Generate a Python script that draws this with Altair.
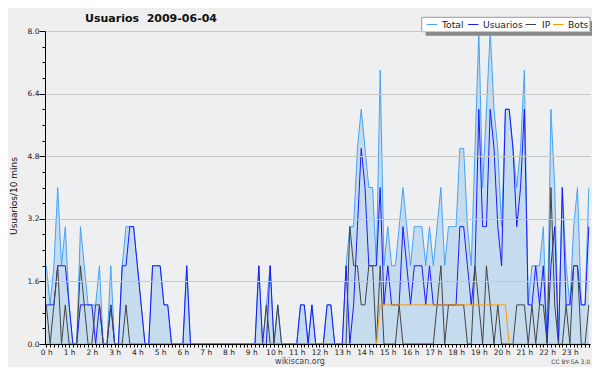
import altair as alt
import pandas as pd

# 10-minute slots of 2009-06-04 (144 slots)
slot = list(range(144))

usuarios = [
    1, 1, 1, 2, 2, 2,  1, 0, 0, 1, 1, 1,  1, 0, 1, 0, 0, 1,  0, 0, 2, 2, 3, 3,
    2, 1, 0, 0, 2, 2,  2, 1, 1, 0, 0, 0,  0, 2, 0, 0, 0, 0,  0, 0, 0, 0, 0, 0,
    0, 0, 0, 0, 0, 0,  0, 0, 2, 0, 0, 2,  0, 0, 0, 0, 0, 0,  0, 1, 1, 0, 1, 0,
    0, 0, 1, 1, 0, 0,  0, 2, 0, 1, 3, 5,  4, 2, 2, 2, 4, 1,  2, 1, 1, 1, 3, 2,
    1, 2, 2, 2, 1, 2,  1, 1, 1, 1, 1, 1,  1, 3, 3, 2, 1, 2,  6, 3, 3, 6, 5, 3,
    2, 6, 6, 5, 3, 4,  6, 1, 1, 2, 1, 2,  0, 2, 3, 0, 4, 1,  1, 2, 2, 1, 1, 3,
]

ip = [
    1, 0, 1, 2, 0, 1,  0, 0, 0, 2, 1, 0,  0, 1, 1, 0, 0, 1,  0, 0, 0, 1, 0, 0,
    0, 0, 0, 0, 0, 0,  0, 0, 0, 0, 0, 0,  0, 0, 0, 0, 0, 0,  0, 0, 0, 0, 0, 0,
    0, 0, 0, 0, 0, 0,  0, 0, 0, 0, 1, 0,  0, 1, 0, 0, 0, 0,  0, 0, 0, 0, 0, 0,
    0, 0, 0, 0, 0, 0,  0, 0, 3, 2, 2, 1,  1, 2, 2, 0, 2, 0,  0, 0, 0, 1, 0, 0,
    0, 0, 0, 0, 0, 0,  0, 1, 2, 0, 1, 1,  1, 1, 1, 0, 0, 2,  1, 0, 2, 1, 0, 1,
    0, 0, 0, 0, 1, 1,  1, 0, 1, 0, 1, 1,  0, 4, 1, 0, 0, 1,  0, 2, 2, 0, 0, 1,
]

bots = [0] * 88 + [1] * 34 + [0] * 22

total = [
    2, 1, 2, 4, 2, 3,  1, 0, 0, 3, 2, 1,  1, 1, 2, 0, 0, 2,  0, 0, 2, 3, 3, 3,
    2, 1, 0, 0, 2, 2,  2, 1, 1, 0, 0, 0,  0, 2, 0, 0, 0, 0,  0, 0, 0, 0, 0, 0,
    0, 0, 0, 0, 0, 0,  0, 0, 2, 0, 1, 2,  0, 1, 0, 0, 0, 0,  0, 1, 1, 0, 1, 0,
    0, 0, 1, 1, 0, 0,  0, 2, 3, 3, 5, 6,  5, 4, 4, 2, 7, 2,  3, 2, 2, 3, 4, 3,
    2, 3, 3, 3, 2, 3,  2, 3, 4, 2, 3, 3,  3, 5, 5, 3, 2, 5,  8, 4, 6, 8, 6, 5,
    3, 6, 6, 5, 4, 5,  7, 1, 2, 2, 2, 3,  0, 6, 4, 0, 4, 2,  1, 3, 4, 1, 1, 4,
]

y_ticks = [round(0.4 * k, 1) for k in range(21)]
series_names = ["Total", "Usuarios", "IP", "Bots"]
series_colors = ["#45a3f7", "#1a1aff", "#444444", "#ff9a00"]

df = pd.DataFrame({"slot": slot, "Total": total, "Usuarios": usuarios,
                   "IP": ip, "Bots": bots})

FONT = "DejaVu Sans"
W, H = 545, 313

x_scale = alt.Scale(domain=[-0.35, 143.3], nice=False, zero=False)
y_scale = alt.Scale(domain=[0, 8], nice=False)
major = "abs(datum.value / 1.6 - round(datum.value / 1.6)) < 0.001"

x_axis = alt.Axis(
    title="", values=slot,
    labelExpr="datum.value % 6 == 0 ? (datum.value / 6) + ' h' : ''",
    tickSize=3, tickColor="#000000", domainColor="#000000",
    labelFont=FONT, labelFontSize=7.5, labelColor="#222222",
    labelPadding=1, labelOverlap=False, labelFlush=False, labelBound=False,
    grid=False, zindex=1,
)
y_axis = alt.Axis(
    title="", values=y_ticks,
    labelExpr=f"{major} ? format(datum.value, '.1f') : ''",
    tickSize={"condition": {"test": major, "value": 6}, "value": 3},
    tickColor="#000000", domainColor="#000000",
    labelFont=FONT, labelFontSize=7.5, labelColor="#222222",
    labelPadding=0, labelOverlap=False, labelFlush=False, labelBound=False,
    grid=True, gridColor="#c8c8c8",
    gridOpacity={"condition": {"test": major, "value": 1}, "value": 0},
    zindex=1,
)


def X():
    return alt.X("slot:Q", scale=x_scale, axis=x_axis)


def Y(field):
    return alt.Y(f"{field}:Q", scale=y_scale, axis=y_axis)


base = alt.Chart(df)
area = base.mark_area(color="#c5dcef", opacity=1).encode(x=X(), y=Y("Total"))
lines = [
    base.mark_line(color=c, strokeWidth=1, interpolate="linear").encode(x=X(), y=Y(n))
    for n, c in zip(series_names, series_colors)
]

one = pd.DataFrame({"k": [0]})
deco = alt.Chart(one)

title = deco.mark_text(text="Usuarios\u00a0\u00a02009-06-04", font=FONT, fontSize=11,
                       fontWeight="bold", color="#111111", align="center",
                       baseline="alphabetic").encode(x=alt.value(106), y=alt.value(-9.5))
ytitle = deco.mark_text(text="Usuarios/10 mins", font=FONT, fontSize=9,
                        color="#111111", angle=270, align="center",
                        baseline="middle").encode(x=alt.value(-31.5), y=alt.value(165))
footer = deco.mark_text(text="wikiscan.org", font=FONT, fontSize=8,
                        color="#444444", align="center",
                        baseline="alphabetic").encode(x=alt.value(255), y=alt.value(333))
cc = deco.mark_text(text="CC BY-SA 3.0", font=FONT, fontSize=6,
                    color="#444444", align="right",
                    baseline="alphabetic").encode(x=alt.value(545), y=alt.value(333))

shadow = deco.mark_rect(fill="#888888").encode(
    x=alt.value(380.7), x2=alt.value(549), y=alt.value(-9.7), y2=alt.value(4.7))
box = deco.mark_rect(fill="#ffffff", stroke="#9a9a9a", strokeWidth=1).encode(
    x=alt.value(376.7), x2=alt.value(545), y=alt.value(-13.7), y2=alt.value(0.7))

legend_layers = []
sym_x = [381.7, 423, 480.5, 508]
txt_x = [397, 438, 497, 523]
for n, c, sx, tx in zip(series_names, series_colors, sym_x, txt_x):
    legend_layers.append(deco.mark_rule(color=c, strokeWidth=1).encode(
        x=alt.value(sx), x2=alt.value(sx + 10.5), y=alt.value(-6.5)))
    legend_layers.append(deco.mark_text(text=n, font=FONT, fontSize=9.2,
                                        color="#222222", align="left",
                                        baseline="middle").encode(
        x=alt.value(tx), y=alt.value(-6.2)))

chart = alt.layer(
    area, *lines, shadow, box, *legend_layers, title, ytitle, footer, cc
).properties(
    width=W, height=H,
    padding={"left": 37, "top": 23, "right": 2, "bottom": 23},
    autosize=alt.AutoSizeParams(type="none"),
    background="#efefef",
).configure_view(fill="#eeeff1", strokeWidth=0)

chart.save("out.html", embed_options={"renderer": "svg", "actions": False})
